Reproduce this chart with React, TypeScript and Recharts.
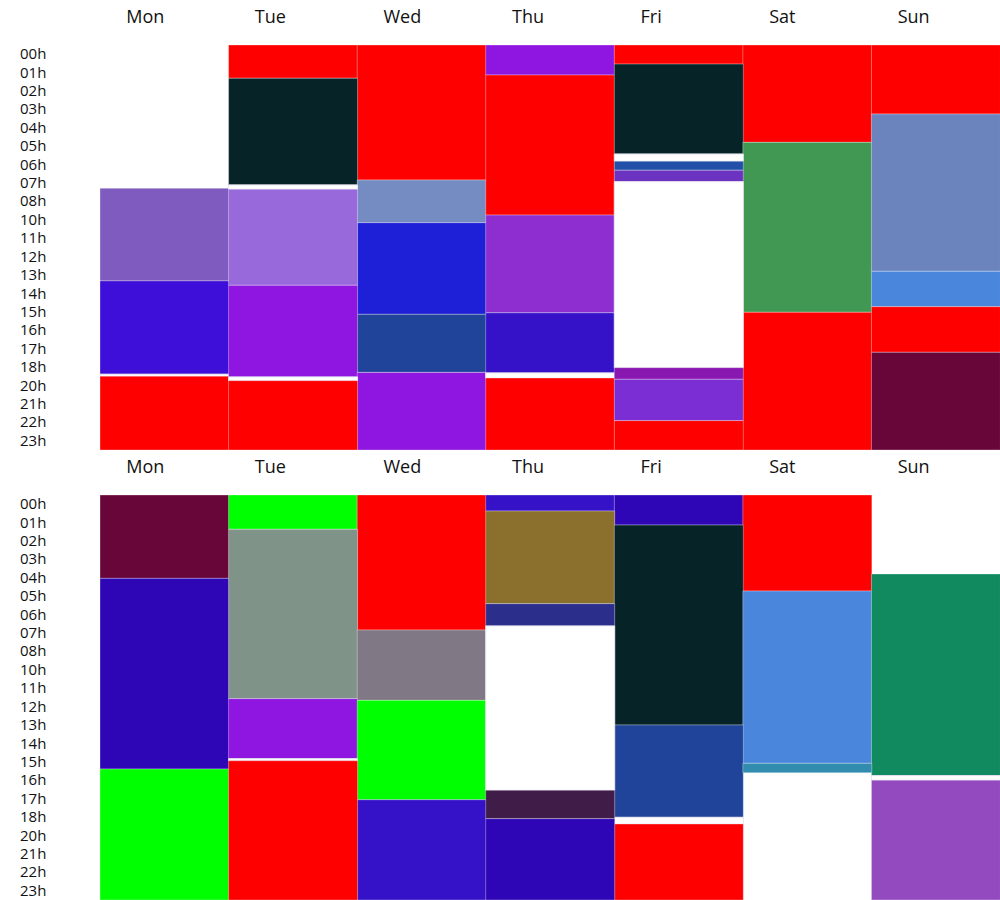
import React from 'react';
import { BarChart, Bar, XAxis, YAxis, Cell } from 'recharts';

const days = ['Mon', 'Tue', 'Wed', 'Thu', 'Fri', 'Sat', 'Sun'];
const hourLabels = [
  '00h', '01h', '02h', '03h', '04h', '05h', '06h', '07h', '08h', '10h', '11h',
  '12h', '13h', '14h', '15h', '16h', '17h', '18h', '20h', '21h', '22h', '23h',
];

const palette: Record<string, string> = {
  red: '#ff0000',
  lilac: '#805bbf',
  blueViolet: '#3e0fd8',
  dark: '#062428',
  lavender: '#9769da',
  violet: '#8e16e0',
  steel: '#748cc2',
  royal: '#1e20d8',
  denim: '#1f449a',
  orchid: '#8e2ed0',
  indigo: '#3512c8',
  cobalt: '#2350a8',
  amethyst: '#6b33c0',
  plum: '#8818b0',
  iris: '#7a2ed4',
  green: '#419853',
  slate: '#6b84bd',
  sky: '#4a86dc',
  maroon: '#68063a',
  ink: '#2e06b6',
  lime: '#00ff00',
  sage: '#7f9388',
  taupe: '#807884',
  olive: '#8a702c',
  navy: '#2b2e8a',
  aubergine: '#401c48',
  teal: '#318cb0',
  jade: '#128a60',
  mauve: '#934abe',
  gap: '#ffffff',
};

// durations in hours, from midnight downward, per day (Mon..Sun)
const topDurations: number[][] = [
  [8.49, 5.49, 5.53, 0.12, 4.37],
  [1.97, 6.32, 0.26, 5.69, 5.43, 0.22, 4.11],
  [8.0, 2.53, 5.43, 3.44, 4.6],
  [1.78, 8.3, 5.79, 3.56, 0.31, 4.27],
  [1.13, 5.33, 0.43, 0.53, 0.68, 11.02, 0.69, 2.45, 1.74],
  [5.77, 10.07, 8.16],
  [4.09, 9.32, 2.1, 2.7, 5.79],
];
const topColors: (string | null)[][] = [
  [null, 'lilac', 'blueViolet', 'gap', 'red'],
  ['red', 'dark', 'gap', 'lavender', 'violet', 'gap', 'red'],
  ['red', 'steel', 'royal', 'denim', 'violet'],
  ['violet', 'red', 'orchid', 'indigo', 'gap', 'red'],
  ['red', 'dark', 'gap', 'cobalt', 'amethyst', 'gap', 'plum', 'iris', 'red'],
  ['red', 'green', 'red'],
  ['red', 'slate', 'sky', 'red', 'maroon'],
];

const bottomDurations: number[][] = [
  [4.94, 11.3, 7.76],
  [2.03, 10.04, 3.56, 0.12, 8.26],
  [8.0, 4.17, 5.89, 5.94],
  [0.95, 5.49, 1.32, 9.74, 1.68, 4.82],
  [1.78, 11.85, 5.47, 0.4, 4.5],
  [5.69, 10.21, 0.56],
  [4.68, 11.95, 0.27, 7.1],
];
const bottomColors: (string | null)[][] = [
  ['maroon', 'ink', 'lime'],
  ['lime', 'sage', 'violet', 'gap', 'red'],
  ['red', 'taupe', 'lime', 'indigo'],
  ['indigo', 'olive', 'navy', 'gap', 'aubergine', 'ink'],
  ['ink', 'dark', 'denim', 'gap', 'red'],
  ['red', 'sky', 'teal'],
  [null, 'jade', 'gap', 'mauve'],
];

const FONT = '"Open Sans", "Noto Sans", sans-serif';

function buildRows(durations: number[][]) {
  return days.map((day, i) => {
    const row: Record<string, any> = { day };
    durations[i].forEach((v, k) => {
      row['s' + k] = v;
    });
    return row;
  });
}

const hourTicks = hourLabels.map((_, i) => ((i + 0.5) * 24) / hourLabels.length);

const DayTick = (props: any) => {
  const { x, payload } = props;
  return (
    <text x={x - 38} y={23} textAnchor="start" fontFamily={FONT} fontSize={18} fill="#111">
      {payload.value}
    </text>
  );
};

const HourTick = (props: any) => {
  const { y, index } = props;
  return (
    <text x={20} y={y} dy={5} textAnchor="start" fontFamily={FONT} fontSize={15} fill="#111">
      {hourLabels[index]}
    </text>
  );
};

function Panel({ durations, colors }: { durations: number[][]; colors: (string | null)[][] }) {
  const rows = buildRows(durations);
  const maxLen = Math.max(...durations.map((d) => d.length));
  const keys = Array.from({ length: maxLen }, (_, k) => 's' + k);
  return (
    <BarChart
      width={1000}
      height={450}
      data={rows}
      margin={{ top: 0, right: 0, bottom: 0, left: 0 }}
      barCategoryGap={0}
      barGap={0}
    >
      <XAxis
        dataKey="day"
        orientation="top"
        height={45}
        axisLine={false}
        tickLine={false}
        tick={<DayTick />}
        interval={0}
      />
      <YAxis
        type="number"
        domain={[0, 24]}
        reversed
        width={100}
        ticks={hourTicks}
        interval={0}
        axisLine={false}
        tickLine={false}
        tick={<HourTick />}
        allowDataOverflow
      />
      {keys.map((key, k) => (
        <Bar key={key} dataKey={key} stackId="a" isAnimationActive={false}>
          {days.map((d, i) => {
            const c = colors[i][k];
            if (!c) {
              return <Cell key={d} fill="transparent" stroke="none" />;
            }
            if (c === 'gap') {
              return <Cell key={d} fill="#ffffff" stroke="#e6e3ee" strokeWidth={1} />;
            }
            return (
              <Cell
                key={d}
                fill={palette[c]}
                stroke="rgba(255,255,255,0.3)"
                strokeWidth={1}
              />
            );
          })}
        </Bar>
      ))}
    </BarChart>
  );
}

export default function App() {
  return (
    <div style={{ position: 'absolute', left: 0, top: 0, width: 1000, height: 900, background: '#fff' }}>
      <Panel durations={topDurations} colors={topColors} />
      <Panel durations={bottomDurations} colors={bottomColors} />
    </div>
  );
}
